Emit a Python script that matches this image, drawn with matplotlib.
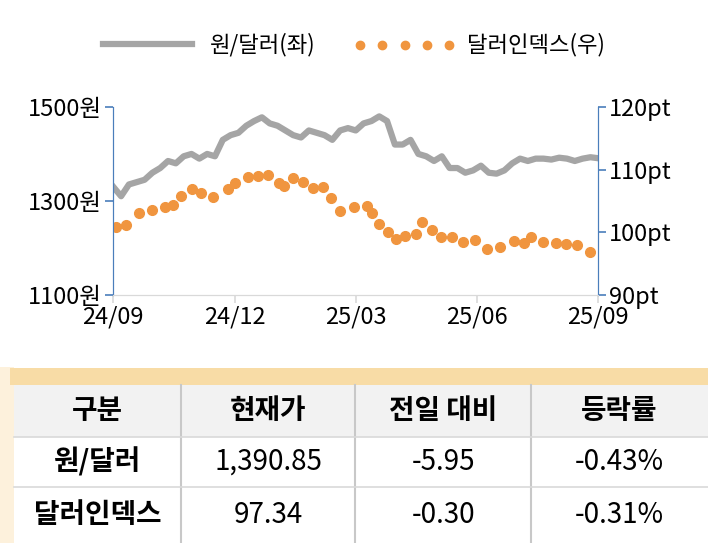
import numpy as np
import matplotlib
matplotlib.use("Agg")
import matplotlib.pyplot as plt
from matplotlib.patches import Rectangle
from matplotlib.lines import Line2D

plt.rcParams["font.family"] = ["Noto Sans CJK JP", "Noto Sans CJK KR",
                               "Noto Sans CJK SC", "DejaVu Sans"]

# 원/달러, roughly weekly from 24/09 to 25/09
krw = [1330, 1310, 1335, 1340,
       1345, 1360, 1370, 1385, 1380,
       1395, 1400, 1390, 1400, 1395,
       1430, 1440, 1445, 1460, 1470,
       1478, 1465, 1460, 1450, 1440,
       1435, 1450, 1445, 1440, 1430, 1450,
       1455, 1450, 1465, 1470, 1480,
       1470, 1420, 1420, 1430, 1400,
       1395, 1385, 1395, 1370, 1370,
       1360, 1365, 1375, 1360, 1358,
       1365, 1380, 1390, 1385,
       1390, 1390, 1388, 1392, 1390,
       1385, 1390, 1393, 1390.85]

# 달러인덱스 dots (x in months since 24/09)
dxy_x = [0.06, 0.31, 0.64, 0.96, 1.27, 1.47, 1.68, 1.96, 2.18, 2.46, 2.83, 3.02,
         3.34, 3.58, 3.84, 4.09, 4.22, 4.45, 4.70, 4.95, 5.20, 5.39, 5.62, 5.96,
         6.29, 6.39, 6.58, 6.79, 7.00, 7.22, 7.48, 7.65, 7.89, 8.12, 8.37, 8.65,
         8.94, 9.24, 9.57, 9.91, 10.16, 10.34, 10.64, 10.95, 11.19, 11.48, 11.79]
dxy = [100.9, 101.2, 103.0, 103.6, 104.0, 104.4, 105.8, 106.9, 106.3, 105.7, 106.9, 107.8,
       108.8, 109.0, 109.1, 107.8, 107.4, 108.7, 108.0, 107.0, 107.3, 105.5, 103.4, 104.1,
       104.2, 103.0, 101.3, 100.0, 98.9, 99.4, 99.7, 101.7, 100.4, 99.2, 99.2, 98.4,
       98.8, 97.4, 97.7, 98.6, 98.2, 99.2, 98.5, 98.2, 98.1, 97.9, 96.9]

x_ticks = [0, 3, 6, 9, 12]
x_labels = ["24/09", "24/12", "25/03", "25/06", "25/09"]

table_header = ["구분", "현재가", "전일 대비", "등락률"]
table_rows = [["원/달러", "1,390.85", "-5.95", "-0.43%"],
              ["달러인덱스", "97.34", "-0.30", "-0.31%"]]

GRAY = "#a5a5a5"
ORANGE = "#f0953f"
BLUE = "#4a7ebb"

fig = plt.figure(figsize=(7.08, 5.43), dpi=100)
ax = fig.add_axes([0.16, 0.457, 0.685, 0.346])
ax2 = ax.twinx()

ax.plot(np.linspace(0, 12, len(krw)), krw, color=GRAY, lw=4.5, solid_joinstyle="round")
ax2.plot(dxy_x, dxy, "o", color=ORANGE, ms=7, ls="none")

ax.set_xlim(0, 12)
ax.set_ylim(1100, 1500)
ax2.set_ylim(90, 120)
ax.set_yticks([1100, 1300, 1500])
ax.set_yticklabels(["1100원", "1300원", "1500원"])
ax2.set_yticks([90, 100, 110, 120])
ax2.set_yticklabels(["90pt", "100pt", "110pt", "120pt"])
ax.set_xticks(x_ticks)
ax.set_xticklabels(x_labels)
for a in (ax, ax2):
    a.spines["top"].set_visible(False)
    a.spines["left"].set_color(BLUE)
    a.spines["right"].set_color(BLUE)
    a.spines["bottom"].set_color("#d9d9d9")
    a.tick_params(labelsize=17, length=6, width=1.2, pad=2)
ax.tick_params(axis="y", colors=BLUE, labelcolor="black")
ax2.tick_params(axis="y", colors=BLUE, labelcolor="black")
ax.tick_params(axis="x", colors="#d9d9d9", labelcolor="black")

handles = [Line2D([], [], color=GRAY, lw=4.5),
           Line2D([], [], color=ORANGE, lw=0)]
leg = fig.legend(handles, ["원/달러(좌)", "달러인덱스(우)"], loc="center",
                 bbox_to_anchor=(0.5, 0.918), ncol=2, frameon=False, fontsize=16,
                 handlelength=4, columnspacing=2)
fig.canvas.draw()
# dotted marker legend: a row of dots over the second handle
bb = leg.legend_handles[1].get_window_extent()
fx0, fx1 = bb.x0 / fig.bbox.width, bb.x1 / fig.bbox.width
for xx in np.linspace(fx0, fx1, 5):
    fig.add_artist(Line2D([xx], [0.918], marker="o", color=ORANGE, ms=6,
                          transform=fig.transFigure))

# table
fig.add_artist(Rectangle((0.0, 0.0), 0.02, 0.325, transform=fig.transFigure,
                         color="#fdf1dc", lw=0))
fig.add_artist(Rectangle((0.014, 0.291), 0.986, 0.031, transform=fig.transFigure,
                         color="#f8dca6", lw=0))
fig.add_artist(Rectangle((0.02, 0.195), 0.98, 0.096, transform=fig.transFigure,
                         color="#f2f2f2", lw=0))
col_edges = [0.02, 0.255, 0.502, 0.75, 1.0]
row_edges = [0.291, 0.195, 0.103, 0.0]
for xe in col_edges[1:-1]:
    fig.add_artist(Line2D([xe, xe], [0, 0.291], color="#c8c8c8", lw=1.5,
                          transform=fig.transFigure))
for ye in row_edges[1:3]:
    fig.add_artist(Line2D([0.02, 1.0], [ye, ye], color="#d9d9d9", lw=1.2,
                          transform=fig.transFigure))
rows = [table_header] + table_rows
for r, row in enumerate(rows):
    yc = (row_edges[r] + row_edges[r + 1]) / 2
    for c, txt in enumerate(row):
        xc = (col_edges[c] + col_edges[c + 1]) / 2
        bold = r == 0 or c == 0
        fig.text(xc, yc, txt, ha="center", va="center", fontsize=20,
                 fontweight="bold" if bold else "normal")

fig.savefig("out.png", dpi=100)
